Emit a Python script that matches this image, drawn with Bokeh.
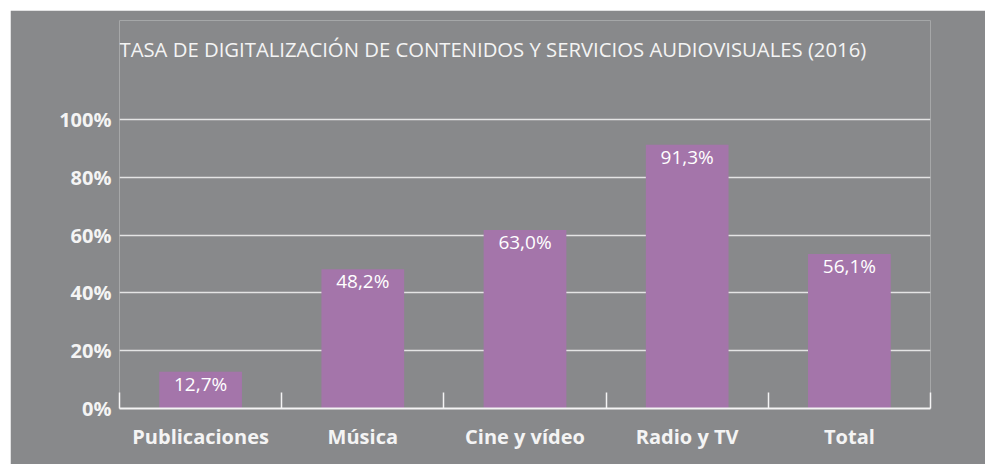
import numpy as np
from bokeh.plotting import figure
from bokeh.models import (ColumnDataSource, Range1d, LinearAxis,
                          FixedTicker, PrintfTickFormatter)
from bokeh.core.properties import value
from bokeh.embed import file_html
from bokeh.resources import INLINE

# ---- data ----
categories = ["Publicaciones", "Música", "Cine y vídeo", "Radio y TV", "Total"]
bar_heights = [12.7, 48.2, 61.8, 91.3, 53.5]          # bar heights as drawn in the picture
bar_labels = ["12,7%", "48,2%", "63,0%", "91,3%", "56,1%"]
y_ticks = [0, 20, 40, 60, 80, 100]
title_text = "TASA DE DIGITALIZACIÓN DE CONTENIDOS Y SERVICIOS AUDIOVISUALES (2016)"

BG = "#88898b"
BAR = "#a475aa"
WHITE = "#f4f4f4"
GRID = "#e4e4e4"

W, H = 975, 454
BORDER_TOP, BORDER_BOTTOM = 10, 56
n = len(categories)
centers = list(np.arange(n) + 0.5)
edges = list(range(n + 1))

# plot area extends to the top so the title sits inside it; 100% lands 99px below the top
frame_h = H - BORDER_TOP - BORDER_BOTTOM
Y_MAX = 100 * frame_h / (frame_h - 99)
title_y = 100 + 71 * Y_MAX / frame_h

p = figure(width=W, height=H, output_backend="svg", toolbar_location=None,
           title_location=None,
           x_range=Range1d(0, n), y_range=Range1d(0, Y_MAX),
           x_axis_location=None,
           min_border_left=109, min_border_right=55,
           min_border_top=BORDER_TOP, min_border_bottom=BORDER_BOTTOM)
p.styles = {"margin-left": "10px", "margin-top": "10px"}
p.background_fill_color = BG
p.border_fill_color = BG
p.outline_line_color = None

# title
p.text(x=[0], y=[title_y], text=[title_text], text_align="left", text_baseline="middle",
       text_color=WHITE, text_font=value("Open Sans"), text_font_size="20.3px")

src = ColumnDataSource(dict(x=centers, top=bar_heights, lab=bar_labels))
p.vbar(x="x", top="top", width=0.51, source=src, fill_color=BAR, line_color=None)
p.text(x="x", y="top", text="lab", source=src, text_align="center",
       text_baseline="top", y_offset=-1, text_color="white",
       text_font=value("Open Sans"), text_font_size="19px")

# grid
p.xgrid.grid_line_color = None
p.ygrid.ticker = FixedTicker(ticks=y_ticks)
p.ygrid.grid_line_color = GRID
p.ygrid.grid_line_width = 1.5

# y axis
ya = p.yaxis[0]
ya.ticker = FixedTicker(ticks=y_ticks)
ya.formatter = PrintfTickFormatter(format="%d%%")
ya.axis_line_color = None
ya.major_tick_line_color = None
ya.minor_tick_line_color = None
ya.major_label_standoff = 2
ya.major_label_text_color = WHITE
ya.major_label_text_font = "Open Sans"
ya.major_label_text_font_style = "bold"
ya.major_label_text_font_size = "20px"

# boundary tick axis (nearest to frame)
edge_axis = LinearAxis(ticker=FixedTicker(ticks=edges, minor_ticks=[]),
                       major_label_overrides={e: "" for e in edges},
                       major_tick_in=16, major_tick_out=0,
                       major_tick_line_color=WHITE, major_tick_line_width=1.5,
                       axis_line_color=WHITE, axis_line_width=2,
                       major_label_text_font_size="1px", major_label_standoff=0)
p.add_layout(edge_axis, "below")

# category label axis
cat_axis = LinearAxis(ticker=FixedTicker(ticks=centers, minor_ticks=[]),
                      major_label_overrides={c: lab for c, lab in zip(centers, categories)},
                      axis_line_color=None, major_tick_line_color=None,
                      minor_tick_line_color=None, major_label_standoff=8,
                      major_label_text_color=WHITE,
                      major_label_text_font="Open Sans",
                      major_label_text_font_style="bold",
                      major_label_text_font_size="20px")
p.add_layout(cat_axis, "below")

open("out.html", "w").write(file_html(p, INLINE))
